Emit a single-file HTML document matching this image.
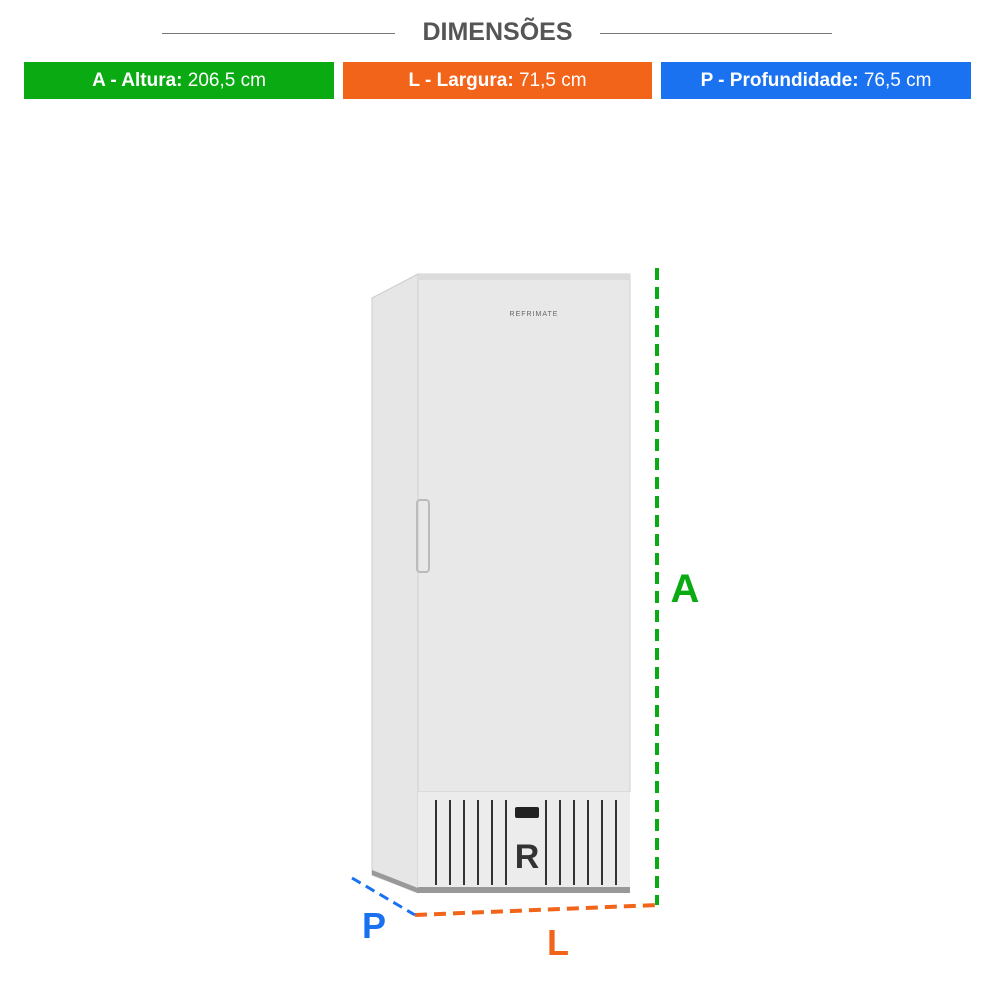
<!DOCTYPE html>
<html><head><meta charset="utf-8"><style>
body{margin:0;width:1000px;height:1000px;background:#fff;overflow:hidden;font-family:"Liberation Sans",sans-serif}
.b{position:absolute;top:62px;height:37px;color:#fff;font-size:19px;line-height:37px;text-align:center}
.b b{font-weight:bold}
</style></head><body>
<div style="position:absolute;left:162px;top:33px;width:233px;height:1px;background:#777"></div>
<div style="position:absolute;left:600px;top:33px;width:232px;height:1px;background:#777"></div>
<div style="position:absolute;left:395px;width:205px;top:18px;text-align:center;font-weight:bold;font-size:25px;color:#555">DIMENSÕES</div>
<div class="b" style="left:24px;width:310px;background:#0aaa12"><b>A - Altura:</b> 206,5 cm</div>
<div class="b" style="left:343px;width:309px;background:#f2641a"><b>L - Largura:</b> 71,5 cm</div>
<div class="b" style="left:661px;width:310px;background:#1a72f0"><b>P - Profundidade:</b> 76,5 cm</div>
<svg style="position:absolute;left:0;top:0" width="1000" height="1000">
<polygon points="372,298 418,274 418,893 372,875" fill="#e6e6e6" stroke="#ccc"/>
<polygon points="372,875 418,893 630,885 630,880 418,888 372,870" fill="#999"/>
<rect x="418" y="274" width="212" height="518" fill="#e8e8e8" stroke="#d0d0d0"/>
<rect x="418" y="274" width="212" height="6" fill="#dcdcdc"/>
<rect x="417" y="500" width="12" height="72" rx="3" fill="none" stroke="#bbb" stroke-width="2"/>
<text x="534" y="316" font-size="7" fill="#666" text-anchor="middle" letter-spacing="1">REFRIMATE</text>
<rect x="418" y="792" width="212" height="98" fill="#ececec"/>
<g stroke="#333" stroke-width="2">
<line x1="436" y1="800" x2="436" y2="885"/><line x1="450" y1="800" x2="450" y2="885"/><line x1="464" y1="800" x2="464" y2="885"/><line x1="478" y1="800" x2="478" y2="885"/><line x1="492" y1="800" x2="492" y2="885"/><line x1="506" y1="800" x2="506" y2="885"/>
<line x1="546" y1="800" x2="546" y2="885"/><line x1="560" y1="800" x2="560" y2="885"/><line x1="574" y1="800" x2="574" y2="885"/><line x1="588" y1="800" x2="588" y2="885"/><line x1="602" y1="800" x2="602" y2="885"/><line x1="616" y1="800" x2="616" y2="885"/>
</g>
<rect x="515" y="807" width="24" height="11" rx="2" fill="#222"/>
<text x="527" y="868" font-size="34" font-weight="bold" fill="#333" text-anchor="middle">R</text>
<rect x="418" y="887" width="212" height="6" fill="#999"/>
<line x1="657" y1="268" x2="657" y2="905" stroke="#0aaa12" stroke-width="4" stroke-dasharray="12,7"/>
<line x1="415" y1="915" x2="657" y2="905" stroke="#f2641a" stroke-width="4" stroke-dasharray="12,7"/>
<line x1="352" y1="878" x2="415" y2="915" stroke="#1a72f0" stroke-width="3" stroke-dasharray="10,6"/>
<text x="685" y="602" font-size="40" font-weight="bold" fill="#0aaa12" text-anchor="middle">A</text>
<text x="374" y="938" font-size="36" font-weight="bold" fill="#1a72f0" text-anchor="middle">P</text>
<text x="558" y="955" font-size="36" font-weight="bold" fill="#f2641a" text-anchor="middle">L</text>
</svg>
</body></html>
